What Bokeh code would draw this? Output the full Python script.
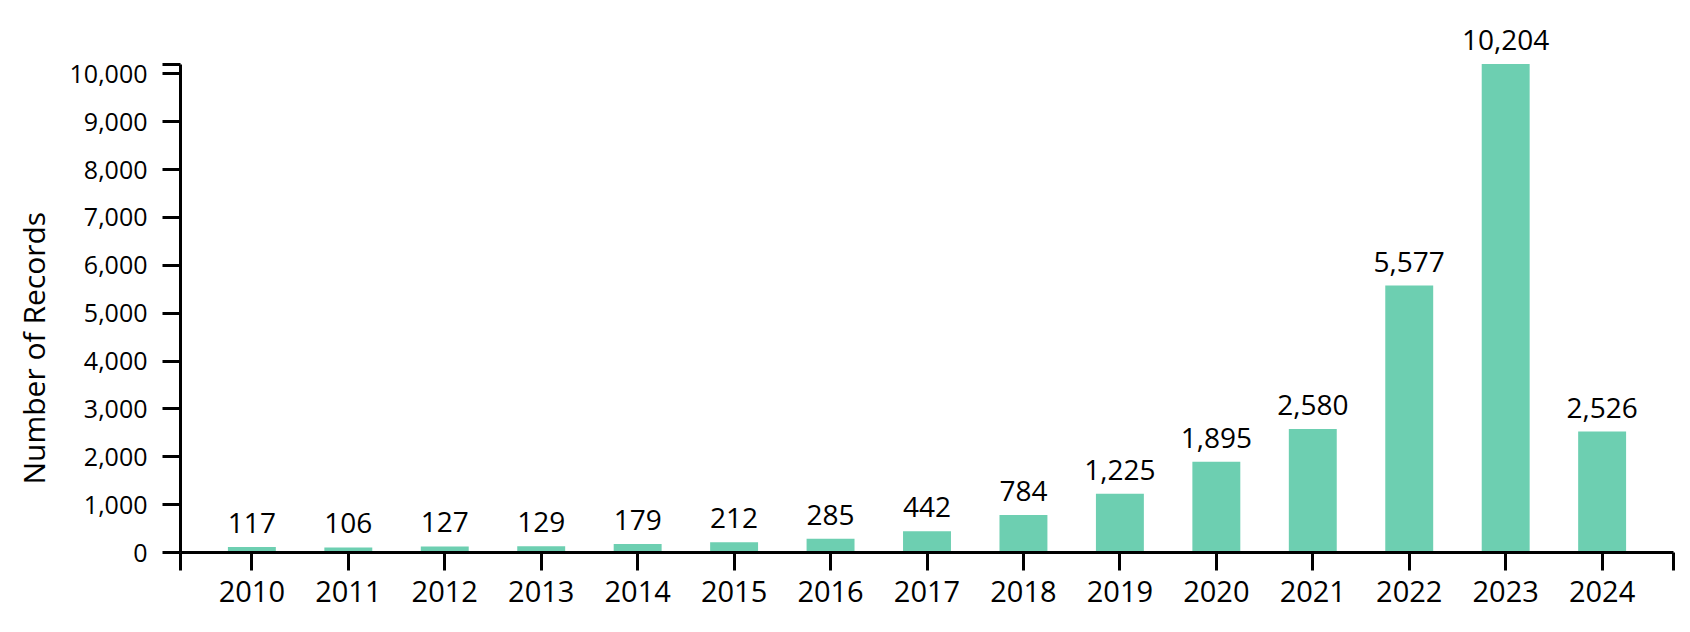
from bokeh.plotting import figure
from bokeh.models import ColumnDataSource, Range1d, FixedTicker, CustomJSTickFormatter, Title
from bokeh.core.properties import value
from bokeh.embed import file_html
from bokeh.resources import INLINE

years = [2010, 2011, 2012, 2013, 2014, 2015, 2016, 2017, 2018, 2019, 2020, 2021, 2022, 2023, 2024]
records = [117, 106, 127, 129, 179, 212, 285, 442, 784, 1225, 1895, 2580, 5577, 10204, 2526]
y_ticks = [0, 1000, 2000, 3000, 4000, 5000, 6000, 7000, 8000, 9000, 10000]

FONT = "Open Sans"
BAR = "#6dcfb1"

idx = list(range(len(years)))
src = ColumnDataSource(dict(
    x=idx,
    year=[str(y) for y in years],
    v=records,
    lab=[f"{v:,}" for v in records],
))

pad = 0.74
x_lo, x_hi = -pad, len(years) - 1 + pad
y_max = max(records)

p = figure(width=1690, height=632, output_backend="svg", toolbar_location=None,
           x_range=Range1d(x_lo, x_hi), y_range=Range1d(0, 11113),
           min_border_left=180, min_border_right=17, min_border_top=20, min_border_bottom=80)
p.outline_line_color = None
p.grid.grid_line_color = None
p.background_fill_color = "white"
p.border_fill_color = "white"

p.vbar(x="x", top="v", width=0.497, bottom=0, source=src, fill_color=BAR, line_color=None)
p.text(x="x", y="v", text="lab", source=src, y_offset=-24, text_align="center",
       text_baseline="alphabetic", text_font=value(FONT), text_font_size="28px", text_color="black")

# x axis
xa = p.xaxis[0]
xa.ticker = FixedTicker(ticks=[x_lo] + idx + [x_hi])
xa.formatter = CustomJSTickFormatter(args=dict(years=[str(y) for y in years]), code="""
const i = Math.round(tick);
return (Math.abs(tick - i) < 1e-6 && i >= 0 && i < years.length) ? years[i] : '';
""")
xa.bounds = (x_lo, x_hi)

# y axis
ya = p.yaxis[0]
ya.ticker = FixedTicker(ticks=y_ticks + [y_max])
ya.formatter = CustomJSTickFormatter(args=dict(top=y_max), code="""
return tick >= top ? '' : tick.toLocaleString('en-US');
""")
ya.bounds = (0, y_max)

for ax, fs in ((xa, "29px"), (ya, "25px")):
    ax.axis_line_color = "black"
    ax.axis_line_width = 3
    ax.major_tick_line_color = "black"
    ax.major_tick_line_width = 3
    ax.major_tick_out = 18
    ax.major_tick_in = 0
    ax.minor_tick_line_color = None
    ax.major_label_text_font = FONT
    ax.major_label_text_font_size = fs
    ax.major_label_text_color = "black"

xa.major_label_standoff = 10
ya.major_label_standoff = 15

# y axis title as a side title in the left border
p.add_layout(Title(text="Number of Records", align="left", vertical_align="top",
                   offset=68, standoff=22,
                   text_font=FONT, text_font_size="30px", text_font_style="normal",
                   text_color="black"), "left")

open("out.html", "w").write(file_html(p, INLINE))
